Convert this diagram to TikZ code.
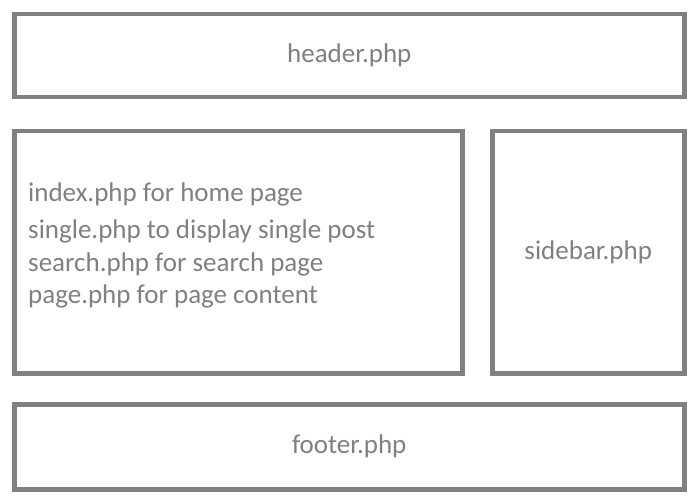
\documentclass[tikz,border=0pt]{standalone}
\usepackage{fontspec}
\setmainfont{Carlito}
\definecolor{boxgray}{RGB}{128,128,128}
\begin{document}
\begin{tikzpicture}
[x=1pt, y=-1pt, every node/.style={inner sep=0pt, text=boxgray, font=\fontsize{27pt}{30pt}\selectfont},
 part/.style={rectangle, draw=boxgray, line width=4.5pt, anchor=north west}]
\useasboundingbox (0,0) rectangle (700,497);
\node (header) [part, minimum width=670pt, minimum height=83pt] at (12, 12) {};
\node (main) [part, minimum width=448pt, minimum height=242pt] at (12, 129) {};
\node (sidebar) [part, minimum width=192pt, minimum height=242pt] at (490, 129) {};
\node (footer) [part, minimum width=670pt, minimum height=85pt] at (12, 402) {};
\node (headertext) at (header.center) {header.php};
\node (sidebartext) at (sidebar.center) {sidebar.php};
\node (footertext) at (footer.center) {footer.php};
\node (index) [anchor=west] at (28, 194) {index.php for home page};
\node (single) [anchor=west] at (28, 231) {single.php to display single post};
\node (search) [anchor=west] at (28, 264) {search.php for search page};
\node (page) [anchor=west] at (28, 296) {page.php for page content};
\end{tikzpicture}
\end{document}
